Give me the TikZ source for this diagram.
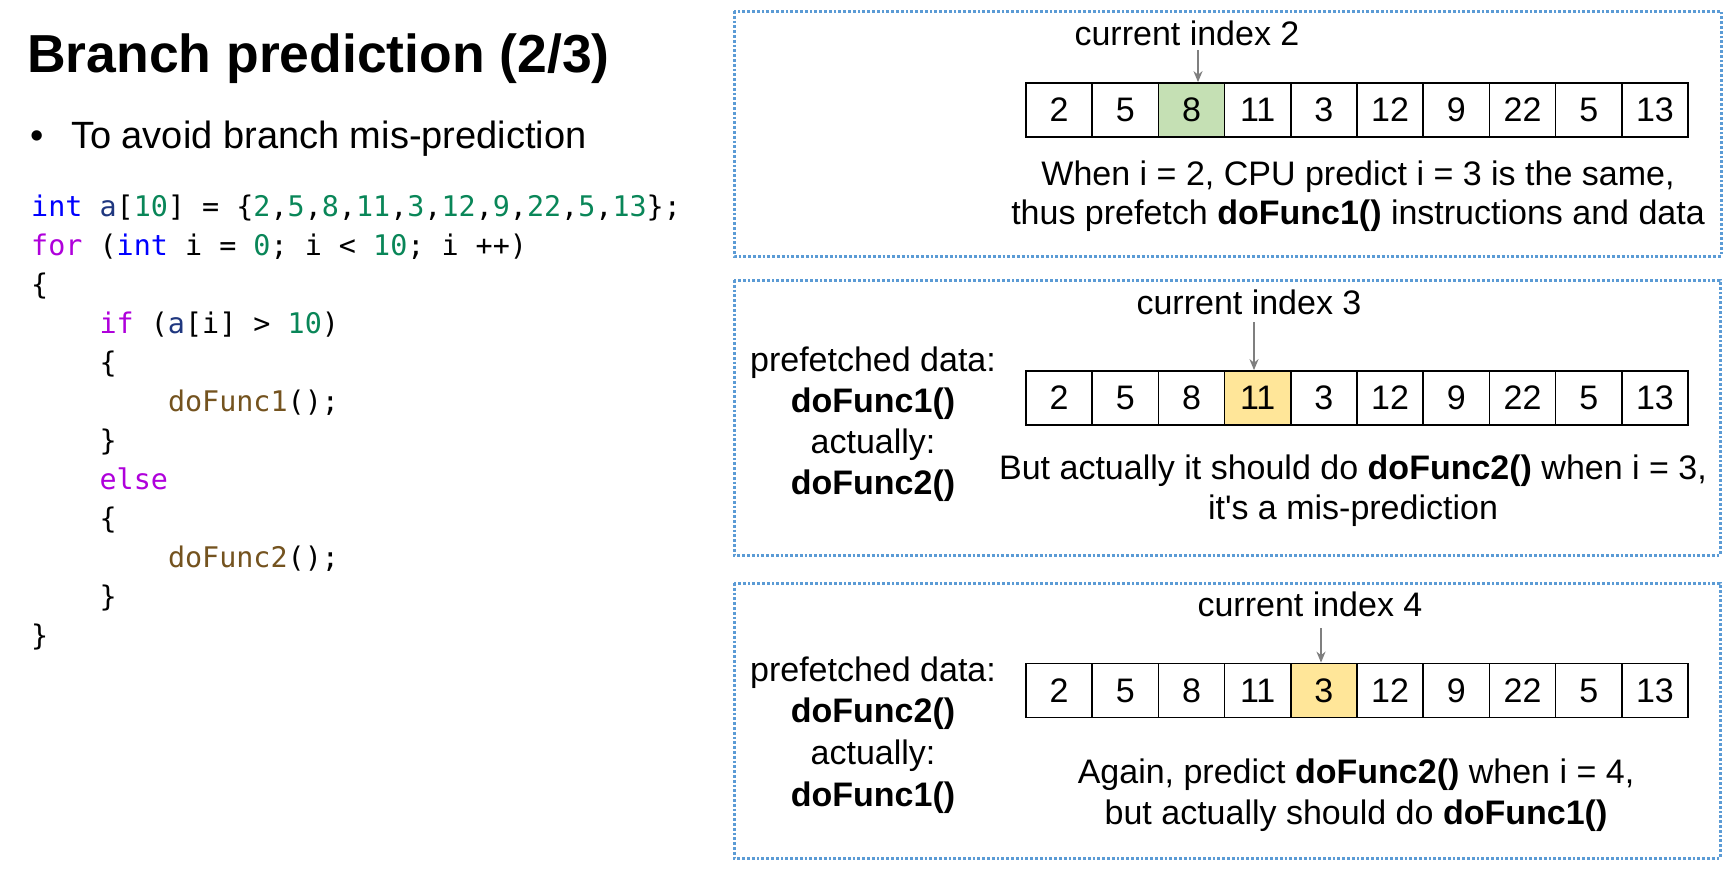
\documentclass[tikz,border=0pt]{standalone}
\usepackage{fontspec}
\setmainfont{Liberation Sans}
\newfontfamily\codefont[WordSpace={1,0,0}]{DejaVu Sans Mono}
\usetikzlibrary{arrows.meta}
\definecolor{kw}{HTML}{0000FF}
\definecolor{ctl}{HTML}{AF00DB}
\definecolor{num}{HTML}{098658}
\definecolor{var}{HTML}{1F377F}
\definecolor{fn}{HTML}{74531F}
\definecolor{boxblue}{HTML}{5B9BD5}
\definecolor{hlgreen}{HTML}{C5E0B4}
\definecolor{hlyellow}{HTML}{FFE699}
\definecolor{arrgray}{HTML}{7F7F7F}
\newcommand{\N}[1]{\textcolor{num}{#1}}
\begin{document}
\begin{tikzpicture}[x=1pt,y=-1pt,
  codeline/.style={anchor=base west,inner sep=0pt,font=\codefont\fontsize{28.4}{34}\selectfont\frenchspacing},
  txt/.style={anchor=base,inner sep=0pt,font=\fontsize{34}{40}\selectfont},
  cellbox/.style={draw=black,line width=1.7pt,minimum width=66.2pt,minimum height=54pt,inner sep=0pt,font=\fontsize{34}{40}\selectfont},
  panel/.style={draw=boxblue,line width=3pt,dash pattern=on 2.8pt off 2pt},
  ptr/.style={draw=arrgray,line width=2.2pt,-{Stealth[length=11pt,width=9pt]}}
]
\useasboundingbox (0,0) rectangle (1733,873);

% title and bullet
\node[anchor=base west,inner sep=0pt,font=\fontsize{53.5}{64}\selectfont\bfseries] (title) at (27,72) {Branch prediction (2/3)};
\node[anchor=base west,inner sep=0pt,font=\fontsize{38}{46}\selectfont] (bul) at (30,148) {\textbullet};
\node[anchor=base west,inner sep=0pt,font=\fontsize{38}{46}\selectfont] (bultxt) at (71,148) {To avoid branch mis-prediction};

% code
\def\cw{17.1}
\node[codeline] (c1) at (31,216) {\textcolor{kw}{int} \textcolor{var}{a}[\N{10}] = \{\N{2},\N{5},\N{8},\N{11},\N{3},\N{12},\N{9},\N{22},\N{5},\N{13}\};};
\node[codeline] (c2) at (31,255) {\textcolor{ctl}{for} (\textcolor{kw}{int} i = \N{0}; i < \N{10}; i ++)};
\node[codeline] (c3) at (31,294) {\{};
\node[codeline] (c4) at (31+4*\cw,333) {\textcolor{ctl}{if} (\textcolor{var}{a}[i] > \N{10})};
\node[codeline] (c5) at (31+4*\cw,372) {\{};
\node[codeline] (c6) at (31+8*\cw,411) {\textcolor{fn}{doFunc1}();};
\node[codeline] (c7) at (31+4*\cw,450) {\}};
\node[codeline] (c8) at (31+4*\cw,489) {\textcolor{ctl}{else}};
\node[codeline] (c9) at (31+4*\cw,528) {\{};
\node[codeline] (c10) at (31+8*\cw,567) {\textcolor{fn}{doFunc2}();};
\node[codeline] (c11) at (31+4*\cw,606) {\}};
\node[codeline] (c12) at (31,645) {\}};

% panels
\draw[panel] (734,11) rectangle (1721,256);
\draw[panel] (734,280) rectangle (1720,555);
\draw[panel] (734,583) rectangle (1720,858);

% arrays
\def\vals{2,5,8,11,3,12,9,22,5,13}
\foreach \v [count=\k from 0] in \vals {
  \pgfmathsetmacro{\cx}{1026+33.1+66.2*\k}
  \ifnum\k=2
    \node[cellbox,fill=hlgreen] (a1-\k) at (\cx,110) {\v};
  \else
    \node[cellbox] (a1-\k) at (\cx,110) {\v};
  \fi
  \ifnum\k=3
    \node[cellbox,fill=hlyellow] (a2-\k) at (\cx,398) {\v};
  \else
    \node[cellbox] (a2-\k) at (\cx,398) {\v};
  \fi
  \ifnum\k=4
    \node[cellbox,fill=hlyellow] (a3-\k) at (\cx,690.5) {\v};
  \else
    \node[cellbox] (a3-\k) at (\cx,690.5) {\v};
  \fi
}

% panel 1
\node[txt] (ci1) at (1187,45) {current index 2};
\coordinate (p1) at (1198,50);
\draw[ptr] (p1) -- (p1 |- a1-2.north);
\node[txt] (t1a) at (1358,185) {When i = 2, CPU predict i = 3 is the same,};
\node[txt] (t1b) at (1358,224) {thus prefetch \textbf{doFunc1()} instructions and data};

% panel 2
\node[txt] (ci2) at (1249,314) {current index 3};
\coordinate (p2) at (1254,322);
\draw[ptr] (p2) -- (p2 |- a2-3.north);
\node[txt] (l2a) at (873,371) {prefetched data:};
\node[txt] (l2b) at (873,412) {\textbf{doFunc1()}};
\node[txt] (l2c) at (873,453) {actually:};
\node[txt] (l2d) at (873,494) {\textbf{doFunc2()}};
\node[txt] (t2a) at (1353,479) {But actually it should do \textbf{doFunc2()} when i = 3,};
\node[txt] (t2b) at (1353,519) {it\textquotesingle s a mis-prediction};

% panel 3
\node[txt] (ci3) at (1310,616) {current index 4};
\coordinate (p3) at (1321,628);
\draw[ptr] (p3) -- (p3 |- a3-4.north);
\node[txt] (l3a) at (873,681) {prefetched data:};
\node[txt] (l3b) at (873,722) {\textbf{doFunc2()}};
\node[txt] (l3c) at (873,764) {actually:};
\node[txt] (l3d) at (873,806) {\textbf{doFunc1()}};
\node[txt] (t3a) at (1356,783) {Again, predict \textbf{doFunc2()} when i = 4,};
\node[txt] (t3b) at (1356,824) {but actually should do \textbf{doFunc1()}};
\end{tikzpicture}
\end{document}
